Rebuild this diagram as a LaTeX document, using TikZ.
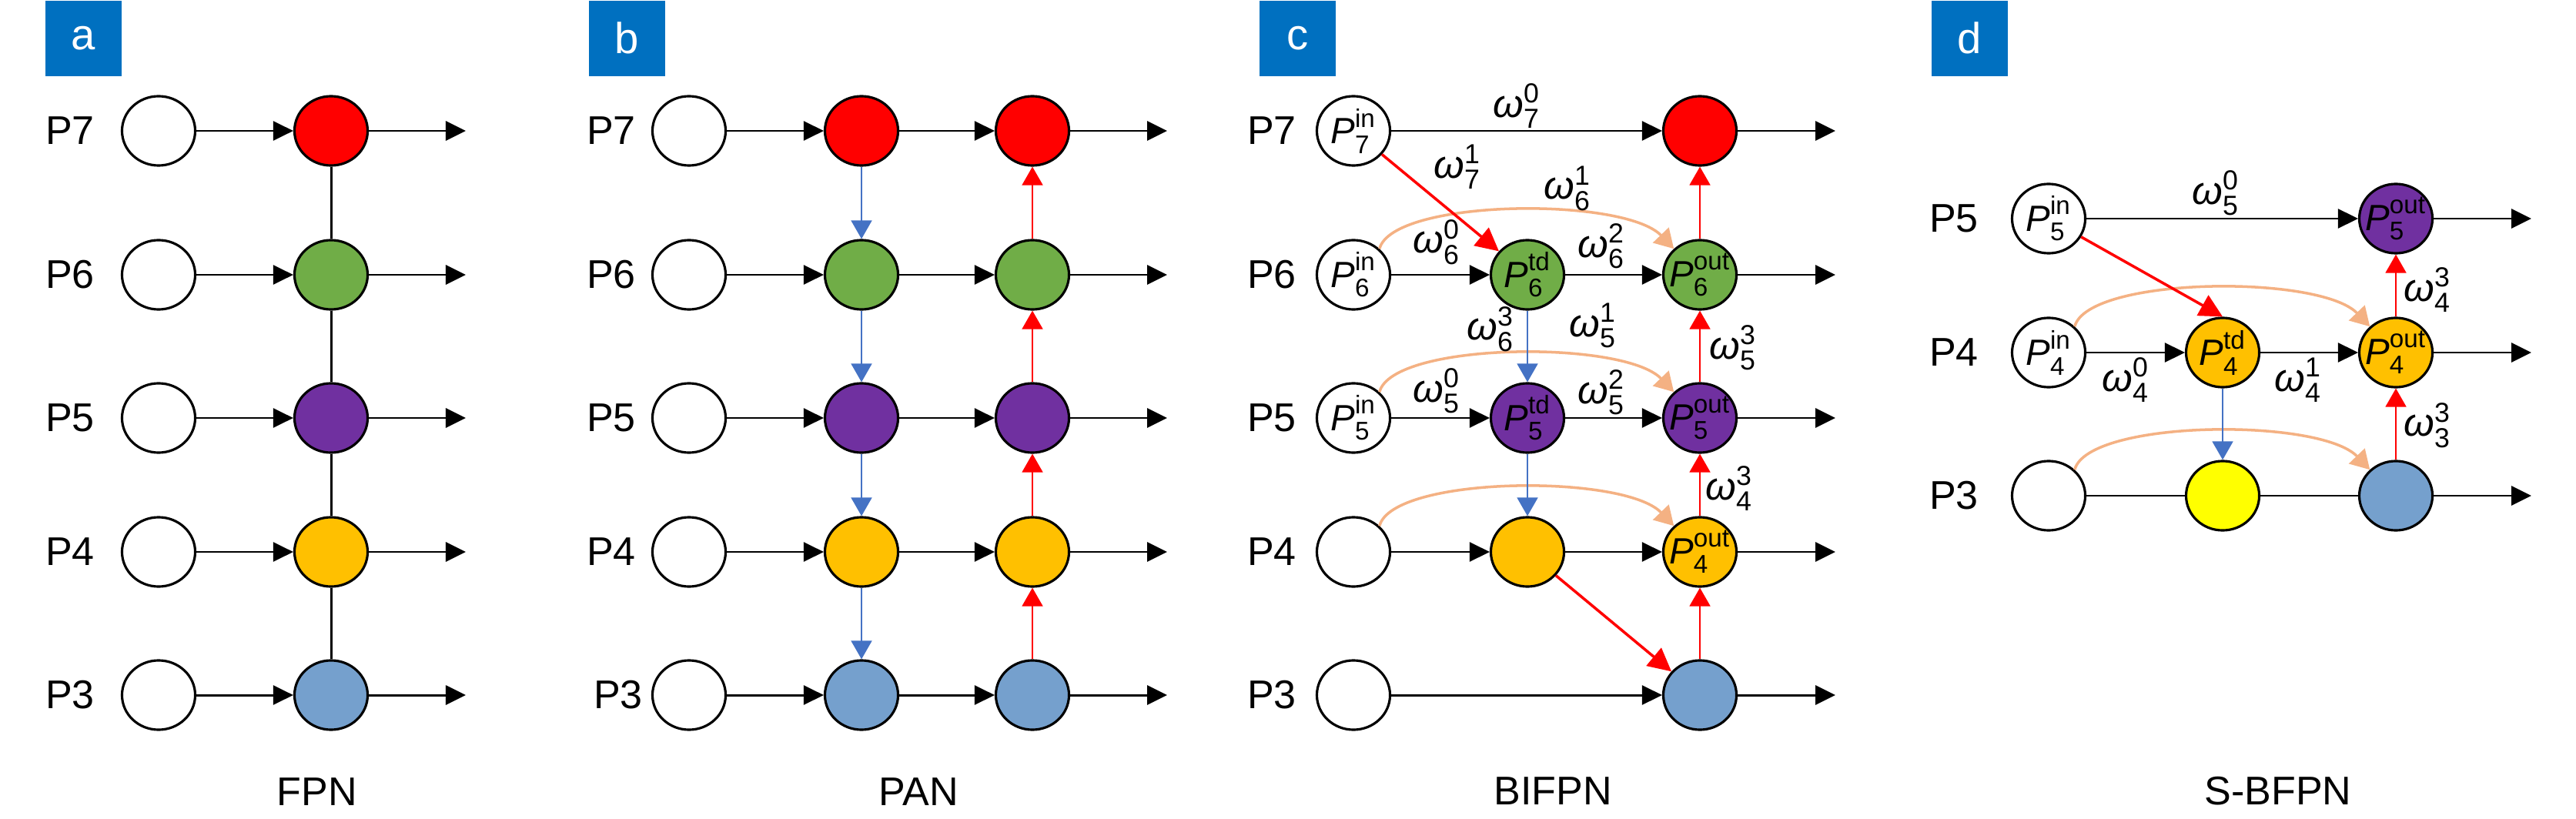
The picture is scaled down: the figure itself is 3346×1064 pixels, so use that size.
\documentclass[tikz,border=0pt]{standalone}
\usepackage{amsmath}
\usepackage{fontspec}
\setmainfont{Liberation Sans}
\usetikzlibrary{shapes.geometric,arrows.meta}
\definecolor{cred}{HTML}{FF0000}
\definecolor{cgreen}{HTML}{70AD47}
\definecolor{cpurple}{HTML}{7030A0}
\definecolor{cgold}{HTML}{FFC000}
\definecolor{clblue}{HTML}{75A0CD}
\definecolor{cyellow}{HTML}{FFFF00}
\definecolor{cbox}{HTML}{0070C0}
\definecolor{cblue}{HTML}{4472C4}
\definecolor{corange}{HTML}{F4B183}
\newcommand{\Pio}[2]{$\textit{P}^{\text{#1}}_{\text{#2}}$}
\newcommand{\Wt}[2]{$\textit{ω}^{\text{#1}}_{\text{#2}}$}
\tikzset{
  nd/.style={ellipse, draw=black, line width=0.9pt, minimum width=0.95cm, minimum height=0.90cm, inner sep=0pt, fill=white},
  conn/.style={line width=0.85pt, -{Triangle[length=7.4pt,width=7.1pt]}},
  plain/.style={line width=0.85pt},
  bdown/.style={draw=cblue, line width=0.7pt, -{Triangle[length=6.8pt,width=7.6pt]}},
  rup/.style={draw=cred, line width=0.7pt, -{Triangle[length=6.8pt,width=7.6pt]}},
  rdiag/.style={draw=cred, line width=1pt, -{Triangle[length=8.5pt,width=8.5pt]}},
  skip/.style={draw=corange, line width=1pt, -{Triangle[length=7pt,width=8pt]}},
  rowlab/.style={font=\fontsize{14.8pt}{17pt}\selectfont, inner sep=0pt},
  ttl/.style={font=\fontsize{14.8pt}{17pt}\selectfont, inner sep=0pt},
  wlab/.style={font=\fontsize{14.5pt}{17pt}\selectfont, inner sep=0pt},
  plab/.style={font=\fontsize{13.5pt}{16pt}\selectfont, inner sep=0pt},
  boxl/.style={fill=cbox, text=white, font=\fontsize{16pt}{18pt}\selectfont, minimum width=0.99cm, minimum height=0.98cm, inner sep=0pt, anchor=north west},
}
\begin{document}
\begin{tikzpicture}[x=0.01cm,y=-0.01cm]
\useasboundingbox (0,0) rectangle (3346,1064);
% panel boxes
\node[boxl] (ba) at (58,0) {a};
\node[boxl] (bb) at (764,0) {b};
\node[boxl] (bc) at (1635,0) {c};
\node[boxl] (bd) at (2508,0) {d};
% ---------- panel a: FPN
\foreach \r/\y/\c in {7/170/cred,6/357/cgreen,5/543/cpurple,4/717/cgold,3/903/clblue}{
  \node[rowlab] (aL\r) at (91,\y) {P\r};
  \node[nd] (aI\r) at (206,\y) {};
  \node[nd,fill=\c] (aF\r) at (430,\y) {};
  \coordinate (aE\r) at (605,\y);
  \draw[conn] (aI\r) -- (aF\r);
  \draw[conn] (aF\r) -- (aE\r);
}
\draw[plain] (aF7) -- (aF6);
\draw[plain] (aF6) -- (aF5);
\draw[plain] (aF5) -- (aF4);
\draw[plain] (aF4) -- (aF3);
\node[ttl] (ta) at (412,1029) {FPN};
% ---------- panel b: PAN
\foreach \r/\y/\c/\lx in {7/170/cred/794,6/357/cgreen/794,5/543/cpurple/794,4/717/cgold/794,3/903/clblue/803}{
  \node[rowlab] (bL\r) at (\lx,\y) {P\r};
  \node[nd] (bI\r) at (895,\y) {};
  \node[nd,fill=\c] (bA\r) at (1119,\y) {};
  \node[nd,fill=\c] (bB\r) at (1341,\y) {};
  \coordinate (bE\r) at (1516,\y);
  \draw[conn] (bI\r) -- (bA\r);
  \draw[conn] (bA\r) -- (bB\r);
  \draw[conn] (bB\r) -- (bE\r);
}
\draw[bdown] (bA7) -- (bA6);
\draw[bdown] (bA6) -- (bA5);
\draw[bdown] (bA5) -- (bA4);
\draw[bdown] (bA4) -- (bA3);
\draw[rup] (bB3) -- (bB4);
\draw[rup] (bB4) -- (bB5);
\draw[rup] (bB5) -- (bB6);
\draw[rup] (bB6) -- (bB7);
\node[ttl] (tb) at (1193,1029) {PAN};
% ---------- panel c: BIFPN
\foreach \r/\y in {7/170,6/357,5/543,4/717,3/903}{
  \node[rowlab] (cL\r) at (1652,\y) {P\r};
  \coordinate (cE\r) at (2384,\y);
}
\node[nd, label={[plab]center:\Pio{in}{7}}] (cI7) at (1758,170) {};
\node[nd, fill=cred] (cO7) at (2208,170) {};
\node[nd, label={[plab]center:\Pio{in}{6}}] (cI6) at (1758,357) {};
\node[nd, fill=cgreen, label={[plab]center:\Pio{td}{6}}] (cT6) at (1984,357) {};
\node[nd, fill=cgreen, label={[plab]center:\Pio{out}{6}}] (cO6) at (2208,357) {};
\node[nd, label={[plab]center:\Pio{in}{5}}] (cI5) at (1758,543) {};
\node[nd, fill=cpurple, label={[plab]center:\Pio{td}{5}}] (cT5) at (1984,543) {};
\node[nd, fill=cpurple, label={[plab]center:\Pio{out}{5}}] (cO5) at (2208,543) {};
\node[nd] (cI4) at (1758,717) {};
\node[nd, fill=cgold] (cT4) at (1984,717) {};
\node[nd, fill=cgold, label={[plab]center:\Pio{out}{4}}] (cO4) at (2208,717) {};
\node[nd] (cI3) at (1758,903) {};
\node[nd, fill=clblue] (cO3) at (2208,903) {};
% skip connections
\draw[skip] (cI6.45) .. controls +(17,-65) and +(-65,-68) .. (cO6.135);
\draw[skip] (cI5.45) .. controls +(17,-65) and +(-65,-68) .. (cO5.135);
\draw[skip] (cI4.45) .. controls +(17,-65) and +(-65,-68) .. (cO4.135);
% horizontal
\draw[conn] (cI7) -- (cO7);
\draw[conn] (cO7) -- (cE7);
\draw[conn] (cI6) -- (cT6);
\draw[conn] (cT6) -- (cO6);
\draw[conn] (cO6) -- (cE6);
\draw[conn] (cI5) -- (cT5);
\draw[conn] (cT5) -- (cO5);
\draw[conn] (cO5) -- (cE5);
\draw[conn] (cI4) -- (cT4);
\draw[conn] (cT4) -- (cO4);
\draw[conn] (cO4) -- (cE4);
\draw[conn] (cI3) -- (cO3);
\draw[conn] (cO3) -- (cE3);
% diagonals and verticals
\draw[rdiag] (cI7) -- (cT6);
\draw[rdiag] (cT4) -- (cO3);
\draw[bdown] (cT6) -- (cT5);
\draw[bdown] (cT5) -- (cT4);
\draw[rup] (cO3) -- (cO4);
\draw[rup] (cO4) -- (cO5);
\draw[rup] (cO5) -- (cO6);
\draw[rup] (cO6) -- (cO7);
% weights
\node[wlab] (w70) at (1970,138) {\Wt{0}{7}};
\node[wlab] (w71) at (1893,217) {\Wt{1}{7}};
\node[wlab] (w61) at (2036,245) {\Wt{1}{6}};
\node[wlab] (w60) at (1866,315) {\Wt{0}{6}};
\node[wlab] (w62) at (2080,320) {\Wt{2}{6}};
\node[wlab] (w63) at (1936,428) {\Wt{3}{6}};
\node[wlab] (w51) at (2069,423) {\Wt{1}{5}};
\node[wlab] (w53) at (2251,452) {\Wt{3}{5}};
\node[wlab] (w50) at (1866,508) {\Wt{0}{5}};
\node[wlab] (w52) at (2080,510) {\Wt{2}{5}};
\node[wlab] (w43) at (2246,635) {\Wt{3}{4}};
\node[ttl] (tc) at (2017,1028) {BIFPN};
% ---------- panel d: S-BFPN
\node[rowlab] (dL5) at (2538,284) {P5};
\node[rowlab] (dL4) at (2538,458) {P4};
\node[rowlab] (dL3) at (2538,644) {P3};
\coordinate (dE5) at (3288,284);
\coordinate (dE4) at (3288,458);
\coordinate (dE3) at (3288,644);
\node[nd, label={[plab]center:\Pio{in}{5}}] (dI5) at (2661,284) {};
\node[nd, fill=cpurple, label={[plab]center:\Pio{out}{5}}] (dO5) at (3112,284) {};
\node[nd, label={[plab]center:\Pio{in}{4}}] (dI4) at (2661,458) {};
\node[nd, fill=cgold, label={[plab]center:\Pio{td}{4}}] (dT4) at (2887,458) {};
\node[nd, fill=cgold, label={[plab]center:\Pio{out}{4}}] (dO4) at (3112,458) {};
\node[nd] (dI3) at (2661,644) {};
\node[nd, fill=cyellow] (dT3) at (2887,644) {};
\node[nd, fill=clblue] (dO3) at (3112,644) {};
\draw[skip] (dI4.45) .. controls +(17,-65) and +(-65,-68) .. (dO4.135);
\draw[skip] (dI3.45) .. controls +(17,-65) and +(-65,-68) .. (dO3.135);
\draw[conn] (dI5) -- (dO5);
\draw[conn] (dO5) -- (dE5);
\draw[conn] (dI4) -- (dT4);
\draw[conn] (dT4) -- (dO4);
\draw[conn] (dO4) -- (dE4);
\draw[plain] (dI3) -- (dT3);
\draw[plain] (dT3) -- (dO3);
\draw[conn] (dO3) -- (dE3);
\draw[rdiag] (dI5) -- (dT4.north);
\draw[bdown] (dT4) -- (dT3);
\draw[rup] (dO3) -- (dO4);
\draw[rup] (dO4) -- (dO5);
\node[wlab] (v50) at (2878,251) {\Wt{0}{5}};
\node[wlab] (v43) at (3153,377) {\Wt{3}{4}};
\node[wlab] (v40) at (2761,494) {\Wt{0}{4}};
\node[wlab] (v41) at (2985,494) {\Wt{1}{4}};
\node[wlab] (v33) at (3153,553) {\Wt{3}{3}};
\node[ttl] (td) at (2959,1028) {S-BFPN};
\end{tikzpicture}
\end{document}
